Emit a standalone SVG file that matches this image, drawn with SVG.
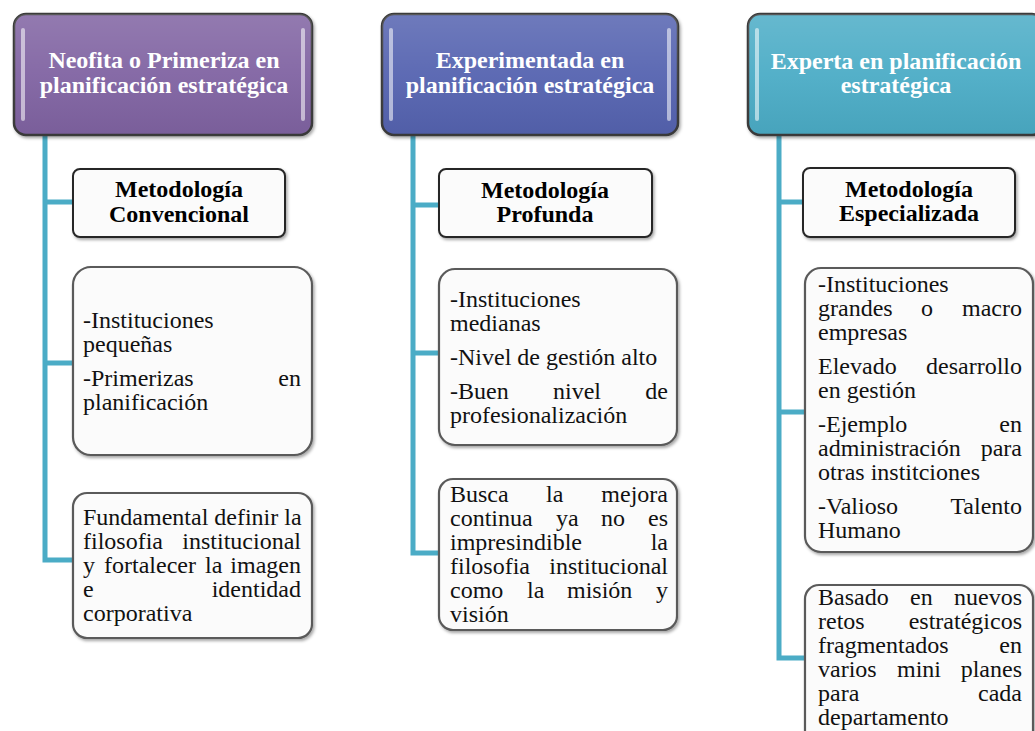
<svg xmlns="http://www.w3.org/2000/svg" width="1035" height="731" viewBox="0 0 1035 731">
<defs>
<filter id="sh" x="-10%" y="-10%" width="130%" height="130%">
<feDropShadow dx="1.5" dy="2" stdDeviation="1.5" flood-color="#000" flood-opacity="0.35"/>
</filter>
<linearGradient id="gloss" x1="0" y1="0" x2="0" y2="1">
<stop offset="0" stop-color="#fff" stop-opacity="0.15"/>
<stop offset="0.5" stop-color="#fff" stop-opacity="0.05"/>
<stop offset="1" stop-color="#000" stop-opacity="0.05"/>
</linearGradient>
<style>
.hd{stroke:#3a3a3a;stroke-width:2.5;filter:url(#sh)}
.bar{fill:#fff;fill-opacity:0.55}
.ht{font-family:"Liberation Serif","Times New Roman",serif;font-size:24px;font-weight:bold;fill:#fff;text-anchor:middle}
.mb{fill:#fbfbfb;stroke:#262626;stroke-width:2;filter:url(#sh)}
.bb{fill:#fbfbfb;stroke:#5a5a5a;stroke-width:2.2;filter:url(#sh)}
.mt{font-family:"Liberation Serif","Times New Roman",serif;font-size:24px;font-weight:bold;fill:#000;text-anchor:middle}
.t{font-family:"Liberation Serif","Times New Roman",serif;font-size:24px;fill:#111}
.r{text-anchor:end}
.cn{fill:none;stroke:#4BACC6;stroke-width:5;stroke-linejoin:miter}
</style>
</defs>
<rect width="1035" height="731" fill="#fff"/>

<g id="connectors">
<path class="cn" d="M45,135 V560 H74 M45,202 H74 M45,363 H74"/>
<path class="cn" d="M413,135 V553 H440 M413,205 H440 M413,353 H440"/>
<path class="cn" d="M779,135 V658 H806 M779,202 H804 M779,412 H806"/>
</g>

<g id="h1">
<rect class="hd" x="14" y="14" width="298" height="121" rx="12" fill="#8064A2"/>
<rect x="14" y="14" width="298" height="121" rx="12" fill="url(#gloss)"/>
<rect class="bar" x="21" y="28" width="4" height="93" rx="2"/>
<rect class="bar" x="301" y="28" width="4" height="93" rx="2"/>
<text class="ht" x="164" y="68">Neofita o Primeriza en</text>
<text class="ht" x="164" y="93">planificación estratégica</text>
</g>
<g id="h2">
<rect class="hd" x="382" y="14" width="296" height="121" rx="12" fill="#5463B0"/>
<rect x="382" y="14" width="296" height="121" rx="12" fill="url(#gloss)"/>
<rect class="bar" x="389" y="28" width="4" height="93" rx="2"/>
<rect class="bar" x="667" y="28" width="4" height="93" rx="2"/>
<text class="ht" x="530" y="68">Experimentada en</text>
<text class="ht" x="530" y="93">planificación estratégica</text>
</g>
<g id="h3">
<rect class="hd" x="748" y="14" width="296" height="121" rx="12" fill="#4BACC6"/>
<rect x="748" y="14" width="296" height="121" rx="12" fill="url(#gloss)"/>
<rect class="bar" x="755" y="28" width="4" height="93" rx="2"/>
<text class="ht" x="896" y="69">Experta en planificación</text>
<text class="ht" x="896" y="93">estratégica</text>
</g>

<g id="m1">
<rect class="mb" x="73" y="169" width="212" height="68" rx="7"/>
<text class="mt" x="179" y="197">Metodología</text>
<text class="mt" x="179" y="222">Convencional</text>
</g>
<g id="m2">
<rect class="mb" x="439" y="169" width="213" height="68" rx="7"/>
<text class="mt" x="545" y="198">Metodología</text>
<text class="mt" x="545" y="222">Profunda</text>
</g>
<g id="m3">
<rect class="mb" x="803" y="168" width="212" height="69" rx="7"/>
<text class="mt" x="909" y="197">Metodología</text>
<text class="mt" x="909" y="221">Especializada</text>
</g>

<g id="b1a">
<rect class="bb" x="73" y="267" width="239" height="188" rx="18"/>
<text class="t" x="83" y="328">-Instituciones</text>
<text class="t" x="83" y="352">pequeñas</text>
<text class="t" x="83" y="386">-Primerizas</text>
<text class="t r" x="301" y="386">en</text>
<text class="t" x="83" y="410">planificación</text>
</g>
<g id="b1b">
<rect class="bb" x="73" y="493" width="239" height="145" rx="14"/>
<text class="t" x="83" y="525">Fundamental definir la</text>
<text class="t" x="83" y="549">filosofia</text>
<text class="t r" x="301" y="549">institucional</text>
<text class="t" x="83" y="573">y</text>
<text class="t" x="104" y="573">fortalecer</text>
<text class="t" x="205" y="573">la</text>
<text class="t r" x="301" y="573">imagen</text>
<text class="t" x="83" y="597">e</text>
<text class="t r" x="301" y="597">identidad</text>
<text class="t" x="83" y="621">corporativa</text>
</g>

<g id="b2a">
<rect class="bb" x="439" y="269" width="238" height="176" rx="16"/>
<text class="t" x="450" y="307">-Instituciones</text>
<text class="t" x="450" y="331">medianas</text>
<text class="t" x="450" y="365">-Nivel de gestión alto</text>
<text class="t" x="450" y="399">-Buen</text>
<text class="t" x="553" y="399">nivel</text>
<text class="t r" x="668" y="399">de</text>
<text class="t" x="450" y="423">profesionalización</text>
</g>
<g id="b2b">
<rect class="bb" x="439" y="479" width="238" height="151" rx="14"/>
<text class="t" x="450" y="502">Busca</text>
<text class="t" x="546" y="502">la</text>
<text class="t r" x="668" y="502">mejora</text>
<text class="t" x="450" y="526">continua</text>
<text class="t" x="556" y="526">ya</text>
<text class="t" x="601" y="526">no</text>
<text class="t r" x="668" y="526">es</text>
<text class="t" x="450" y="550">impresindible</text>
<text class="t r" x="668" y="550">la</text>
<text class="t" x="450" y="574">filosofia</text>
<text class="t r" x="668" y="574">institucional</text>
<text class="t" x="450" y="598">como</text>
<text class="t" x="527" y="598">la</text>
<text class="t" x="567" y="598">misión</text>
<text class="t r" x="668" y="598">y</text>
<text class="t" x="450" y="622">visión</text>
</g>

<g id="b3a">
<rect class="bb" x="805" y="268" width="228" height="284" rx="16"/>
<text class="t" x="818" y="292">-Instituciones</text>
<text class="t" x="818" y="316">grandes</text>
<text class="t" x="921" y="316">o</text>
<text class="t r" x="1022" y="316">macro</text>
<text class="t" x="818" y="340">empresas</text>
<text class="t" x="818" y="374">Elevado</text>
<text class="t r" x="1022" y="374">desarrollo</text>
<text class="t" x="818" y="398">en gestión</text>
<text class="t" x="818" y="432">-Ejemplo</text>
<text class="t r" x="1022" y="432">en</text>
<text class="t" x="818" y="456">administración</text>
<text class="t r" x="1022" y="456">para</text>
<text class="t" x="818" y="480">otras institciones</text>
<text class="t" x="818" y="514">-Valioso</text>
<text class="t r" x="1022" y="514">Talento</text>
<text class="t" x="818" y="538">Humano</text>
</g>
<g id="b3b">
<rect class="bb" x="805" y="585" width="228" height="160" rx="14"/>
<text class="t" x="818" y="605">Basado</text>
<text class="t" x="910" y="605">en</text>
<text class="t r" x="1022" y="605">nuevos</text>
<text class="t" x="818" y="629">retos</text>
<text class="t r" x="1022" y="629">estratégicos</text>
<text class="t" x="818" y="653">fragmentados</text>
<text class="t r" x="1022" y="653">en</text>
<text class="t" x="818" y="677">varios</text>
<text class="t" x="897" y="677">mini</text>
<text class="t r" x="1022" y="677">planes</text>
<text class="t" x="818" y="701">para</text>
<text class="t r" x="1022" y="701">cada</text>
<text class="t" x="818" y="725">departamento</text>
</g>
</svg>
